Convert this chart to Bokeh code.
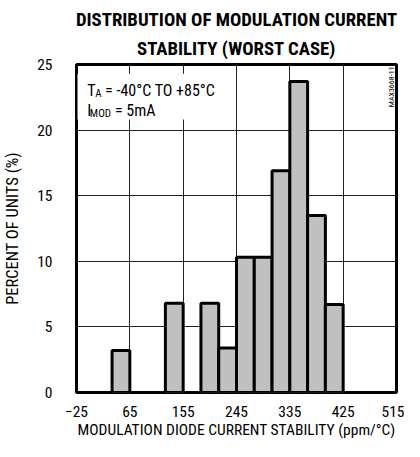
from bokeh.plotting import figure
from bokeh.models import Label, FixedTicker, Range1d, BoxAnnotation, Title
from bokeh.embed import file_html
from bokeh.resources import INLINE
import math

# ---- data ----
bin_left = [35, 125, 185, 215, 245, 275, 305, 335, 365, 395]
bin_right = [65, 155, 215, 245, 275, 305, 335, 365, 395, 425]
percent = [3.2, 6.8, 6.8, 3.4, 10.3, 10.3, 16.9, 23.7, 13.5, 6.7]
x_ticks = [-25, 65, 155, 245, 335, 425, 515]
y_ticks = [0, 5, 10, 15, 20, 25]

FONT = "Roboto Condensed"

p = figure(width=404, height=441, output_backend="svg", toolbar_location=None,
           x_range=Range1d(-25, 515), y_range=Range1d(0, 25),
           min_border_left=73, min_border_right=8, min_border_top=64, min_border_bottom=0)
p.title.visible = False
p.background_fill_color = "white"
p.border_fill_color = "white"
p.outline_line_color = "black"
p.outline_line_width = 3

for ax in (p.xaxis[0], p.yaxis[0]):
    ax.axis_line_color = None
    ax.major_tick_line_color = None
    ax.minor_tick_line_color = None
    ax.major_label_text_font = FONT
    ax.major_label_text_font_size = "15.5px"
    ax.major_label_text_color = "black"
    ax.major_tick_out = 0
    ax.major_tick_in = 0
    ax.axis_label_text_font = FONT
    ax.axis_label_text_font_style = "normal"
    ax.axis_label_text_color = "black"
p.xaxis.ticker = FixedTicker(ticks=x_ticks)
p.yaxis.ticker = FixedTicker(ticks=y_ticks)
p.xaxis.major_label_standoff = 13
p.yaxis.major_label_standoff = 24
p.xaxis.axis_label = "MODULATION DIODE CURRENT STABILITY (ppm/°C)"
p.yaxis.axis_label = "PERCENT OF UNITS (%)"
p.xaxis.axis_label_text_font_size = "15.5px"
p.yaxis.axis_label_text_font_size = "16.5px"
p.xaxis.axis_label_standoff = 1
p.yaxis.axis_label_standoff = 12

p.xgrid.ticker = FixedTicker(ticks=x_ticks)
p.ygrid.ticker = FixedTicker(ticks=y_ticks)
for g in (p.xgrid[0], p.ygrid[0]):
    g.grid_line_color = "#222222"
    g.grid_line_width = 1

p.quad(left=bin_left, right=bin_right, top=percent, bottom=0,
       fill_color="#c0c0c0", line_color="black", line_width=3)

# white box behind the conditions text
p.add_layout(BoxAnnotation(left=-23.3, right=225, bottom=20.8, top=24.3,
                           fill_color="white", fill_alpha=1, line_color=None))

def lab(text, x, y, size, angle=0, align="left", baseline="alphabetic"):
    p.add_layout(Label(text=text, x=x, y=y, x_units="data", y_units="data",
                       text_font=FONT, text_font_size=size, text_align=align,
                       text_baseline=baseline, angle=angle, text_color="black"))

# conditions text (positions in data units)
lab("T", -6.7, 23.04, "16px")
lab("A", 6.7, 22.8, "11px")
lab("= -40°C TO +85°C", 23.3, 23.04, "16px")
lab("I", -6.7, 21.5, "16px")
lab("MOD", -2.5, 21.26, "11px")
lab("= 5mA", 40, 21.5, "16px")

# figure id, reading upward, near the top right corner
lab("MAX3668-11", 506, 23.3, "8px", angle=math.pi / 2, align="center", baseline="middle")

# title lines (last added is outermost)
p.add_layout(Title(text="STABILITY (WORST CASE)", align="center", text_font=FONT,
                   text_font_size="18.8px", text_font_style="bold", text_color="black",
                   standoff=10), "above")
p.add_layout(Title(text="DISTRIBUTION OF MODULATION CURRENT", align="center", text_font=FONT,
                   text_font_size="18.8px", text_font_style="bold", text_color="black",
                   standoff=0), "above")

open("out.html", "w").write(file_html(p, INLINE))
